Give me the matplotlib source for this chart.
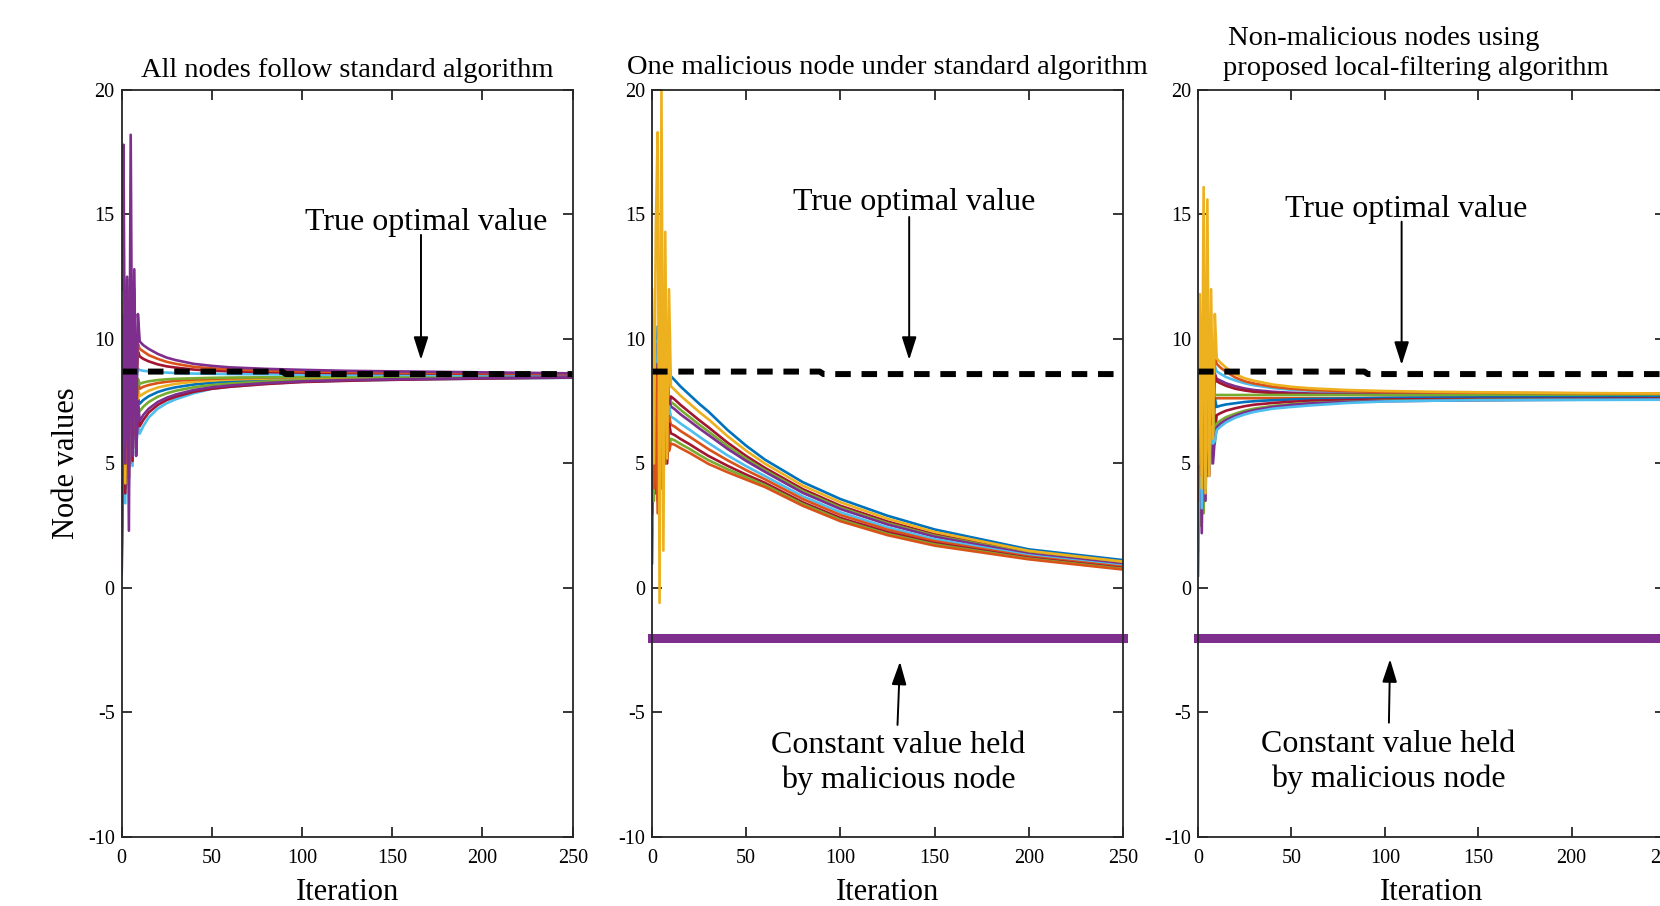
import matplotlib
matplotlib.use('Agg')
import matplotlib.pyplot as plt

plt.rcParams['font.family'] = ['Liberation Serif', 'DejaVu Serif']
plt.rcParams['axes.unicode_minus'] = False

# matlab default line colours
blue = '#0072BD'
orange = '#D95319'
yellow = '#EDB120'
purple = '#7E2F8E'
green = '#77AC30'
lblue = '#4DBEEE'
red = '#A2142F'

iters = [0, 1, 2, 3, 4, 5, 6, 7, 8, 9, 10, 12, 15, 20, 25, 30, 40, 50, 60, 80, 100, 125, 150, 200, 250]

# true optimal value (small step near iteration 90)
opt_iters = [0, 89, 91, 250]
opt_vals = [8.69, 8.69, 8.59, 8.59]

# value held by the malicious node
mal_iters = [0, 250]
mal_vals = [-2.0, -2.0]

# panel 1: all nodes follow standard algorithm
p1_colors = [lblue, blue, green, red, yellow, orange, green, lblue, red, orange, purple, purple]
p1_nodes = [
    [1.0, 11.2, 3.4, 11.6, 4.1, 10.4, 4.9, 9.2, 5.4, 6.8, 6.2, 6.5, 6.85, 7.2, 7.42, 7.58, 7.82, 8.0, 8.08, 8.2, 8.28, 8.33, 8.36, 8.41, 8.44],
    [0.5, 9.8, 4.0, 10.8, 4.8, 10.1, 5.6, 9.0, 6.3, 7.6, 7.4, 7.55, 7.7, 7.87, 7.98, 8.06, 8.17, 8.24, 8.29, 8.35, 8.39, 8.42, 8.44, 8.47, 8.49],
    [4.0, 10.2, 4.6, 11.3, 5.0, 9.9, 5.8, 8.8, 6.2, 7.3, 7.1, 7.28, 7.47, 7.68, 7.82, 7.92, 8.06, 8.15, 8.21, 8.29, 8.34, 8.38, 8.41, 8.45, 8.48],
    [2.2, 10.8, 3.8, 12.1, 4.4, 10.9, 5.1, 9.5, 5.6, 7.0, 6.5, 6.75, 7.05, 7.35, 7.55, 7.68, 7.88, 8.0, 8.08, 8.19, 8.27, 8.32, 8.36, 8.41, 8.45],
    [3.5, 11.5, 4.2, 12.0, 4.5, 11.0, 5.5, 9.8, 6.4, 8.0, 7.7, 7.8, 7.92, 8.05, 8.13, 8.2, 8.28, 8.33, 8.37, 8.41, 8.44, 8.46, 8.47, 8.49, 8.5],
    [1.5, 10.5, 5.0, 11.5, 5.2, 10.6, 6.2, 9.4, 7.0, 8.3, 8.0, 8.08, 8.15, 8.23, 8.28, 8.32, 8.37, 8.4, 8.42, 8.45, 8.47, 8.48, 8.49, 8.5, 8.51],
    [2.5, 9.0, 6.0, 10.5, 5.5, 9.6, 7.0, 9.8, 7.5, 8.4, 8.2, 8.25, 8.3, 8.35, 8.38, 8.4, 8.42, 8.44, 8.45, 8.46, 8.47, 8.48, 8.48, 8.49, 8.5],
    [0.5, 8.5, 7.2, 9.4, 7.5, 9.2, 8.0, 9.1, 8.3, 8.8, 8.75, 8.72, 8.7, 8.67, 8.65, 8.63, 8.61, 8.6, 8.59, 8.58, 8.57, 8.56, 8.56, 8.55, 8.55],
    [1.2, 10.0, 6.5, 9.8, 7.0, 10.2, 7.8, 9.9, 8.2, 9.5, 9.3, 9.2, 9.1, 8.98, 8.9, 8.85, 8.77, 8.73, 8.7, 8.67, 8.65, 8.63, 8.62, 8.6, 8.58],
    [2.0, 9.5, 7.0, 11.0, 6.2, 10.8, 7.5, 10.5, 8.0, 9.8, 9.6, 9.5, 9.35, 9.2, 9.08, 9.0, 8.88, 8.82, 8.78, 8.73, 8.7, 8.67, 8.65, 8.62, 8.6],
    [0.6, 11.0, 6.0, 12.4, 4.8, 12.6, 5.4, 12.0, 5.3, 7.5, 6.7, 6.95, 7.2, 7.47, 7.64, 7.77, 7.95, 8.06, 8.13, 8.23, 8.3, 8.35, 8.38, 8.43, 8.46],
    [12.0, 17.8, 5.0, 12.5, 2.3, 18.2, 5.3, 12.8, 6.0, 11.0, 9.9, 9.75, 9.6, 9.4, 9.25, 9.15, 9.0, 8.92, 8.86, 8.8, 8.76, 8.72, 8.7, 8.66, 8.62],
]

# panel 2: one malicious node, standard algorithm
p2_colors = [blue, red, green, purple, lblue, orange, red, green, orange, yellow]
p2_nodes = [
    [1.0, 9.0, 5.5, 10.5, 4.5, 10.0, 6.0, 9.5, 7.0, 9.0, 8.5, 8.35, 8.1, 7.75, 7.4, 7.08, 6.35, 5.71, 5.15, 4.25, 3.57, 2.9, 2.35, 1.55, 1.12],
    [6.0, 4.0, 9.8, 3.5, 10.2, 4.2, 9.5, 5.5, 8.8, 7.2, 7.69, 7.57, 7.36, 7.05, 6.74, 6.45, 5.84, 5.3, 4.82, 3.97, 3.3, 2.67, 2.16, 1.43, 1.01],
    [7.5, 5.0, 9.0, 4.8, 9.5, 5.5, 8.8, 6.0, 8.5, 7.0, 7.47, 7.36, 7.16, 6.86, 6.56, 6.28, 5.7, 5.19, 4.73, 3.89, 3.23, 2.6, 2.1, 1.4, 0.98],
    [4.0, 8.0, 4.6, 9.2, 5.0, 8.6, 5.4, 8.2, 5.6, 7.6, 7.29, 7.18, 6.98, 6.7, 6.41, 6.14, 5.59, 5.1, 4.66, 3.82, 3.17, 2.55, 2.06, 1.37, 0.95],
    [2.5, 9.5, 4.0, 10.0, 4.8, 9.2, 5.0, 8.5, 5.8, 7.3, 6.88, 6.79, 6.61, 6.35, 6.08, 5.82, 5.33, 4.89, 4.49, 3.68, 3.04, 2.43, 1.96, 1.31, 0.89],
    [5.0, 7.0, 4.5, 8.8, 4.2, 8.0, 5.0, 7.6, 5.2, 6.9, 6.56, 6.48, 6.31, 6.07, 5.82, 5.57, 5.13, 4.73, 4.36, 3.57, 2.93, 2.34, 1.88, 1.26, 0.85],
    [3.0, 8.5, 3.8, 9.0, 4.2, 8.2, 4.6, 7.5, 5.0, 6.6, 6.21, 6.14, 5.99, 5.77, 5.53, 5.3, 4.91, 4.55, 4.22, 3.44, 2.81, 2.24, 1.8, 1.21, 0.8],
    [6.5, 3.5, 8.0, 4.0, 7.5, 4.6, 7.2, 5.0, 6.8, 5.6, 5.99, 5.93, 5.79, 5.58, 5.35, 5.13, 4.77, 4.45, 4.13, 3.37, 2.74, 2.17, 1.75, 1.18, 0.77],
    [8.0, 4.0, 8.5, 3.0, 8.8, 4.0, 8.0, 5.0, 7.0, 5.5, 5.8, 5.75, 5.62, 5.42, 5.2, 4.98, 4.65, 4.35, 4.05, 3.3, 2.68, 2.12, 1.7, 1.15, 0.74],
    [12.0, 5.0, 14.5, 18.3, -0.6, 20.0, 1.5, 14.3, 5.2, 12.0, 8.1, 7.96, 7.73, 7.4, 7.07, 6.77, 6.1, 5.51, 4.99, 4.11, 3.44, 2.78, 2.25, 1.49, 1.06],
]

# panel 3: non-malicious nodes with local filtering
p3_colors = [lblue, purple, red, green, orange, blue, red, green, purple, lblue, orange, yellow]
p3_nodes = [
    [2.0, 10.0, 5.0, 9.5, 6.0, 9.2, 6.5, 9.0, 7.5, 8.9, 8.7, 8.6, 8.47, 8.33, 8.22, 8.14, 8.03, 7.96, 7.92, 7.87, 7.85, 7.83, 7.82, 7.81, 7.8],
    [3.0, 9.0, 4.0, 10.0, 5.0, 9.5, 6.0, 9.0, 6.8, 8.6, 8.4, 8.33, 8.22, 8.1, 8.01, 7.95, 7.88, 7.84, 7.81, 7.79, 7.78, 7.77, 7.76, 7.75, 7.74],
    [4.0, 8.5, 3.6, 9.8, 4.8, 9.0, 5.6, 8.8, 6.5, 8.5, 8.3, 8.22, 8.12, 8.0, 7.93, 7.88, 7.83, 7.8, 7.78, 7.76, 7.75, 7.74, 7.73, 7.72, 7.72],
    [6.0, 3.0, 9.5, 4.0, 9.0, 5.5, 9.2, 6.0, 9.0, 7.75, 7.75, 7.75, 7.75, 7.75, 7.75, 7.75, 7.75, 7.75, 7.75, 7.75, 7.75, 7.75, 7.75, 7.75, 7.75],
    [1.5, 10.5, 4.5, 10.0, 5.2, 9.4, 6.2, 8.6, 6.8, 7.62, 7.62, 7.62, 7.62, 7.62, 7.62, 7.62, 7.62, 7.62, 7.62, 7.62, 7.62, 7.62, 7.62, 7.62, 7.62],
    [0.5, 9.5, 3.0, 9.0, 4.5, 8.8, 5.5, 8.4, 6.0, 7.6, 7.27, 7.32, 7.37, 7.42, 7.47, 7.5, 7.54, 7.57, 7.59, 7.61, 7.63, 7.64, 7.65, 7.66, 7.67],
    [5.5, 3.5, 9.0, 4.2, 8.5, 5.0, 8.0, 5.5, 7.8, 6.2, 6.94, 7.02, 7.12, 7.22, 7.3, 7.36, 7.43, 7.48, 7.52, 7.55, 7.57, 7.58, 7.59, 7.6, 7.61],
    [7.0, 2.5, 8.5, 3.0, 8.0, 4.5, 7.6, 5.0, 7.4, 5.8, 6.6, 6.72, 6.86, 7.0, 7.12, 7.2, 7.31, 7.38, 7.43, 7.48, 7.52, 7.54, 7.55, 7.57, 7.58],
    [2.5, 8.0, 2.2, 8.5, 3.5, 8.0, 4.5, 7.2, 5.0, 6.0, 6.45, 6.6, 6.75, 6.92, 7.05, 7.14, 7.27, 7.35, 7.41, 7.47, 7.5, 7.52, 7.54, 7.56, 7.57],
    [1.0, 8.8, 3.2, 9.2, 4.0, 8.5, 4.8, 6.5, 5.8, 5.9, 6.34, 6.48, 6.65, 6.84, 6.97, 7.07, 7.2, 7.27, 7.33, 7.43, 7.49, 7.52, 7.54, 7.55, 7.56],
    [3.5, 11.0, 4.5, 10.8, 5.5, 10.5, 6.5, 10.0, 7.5, 9.4, 9.0, 8.85, 8.68, 8.45, 8.3, 8.21, 8.08, 8.0, 7.95, 7.9, 7.87, 7.85, 7.84, 7.82, 7.8],
    [5.0, 11.8, 4.0, 16.1, 3.8, 15.6, 4.5, 12.0, 6.0, 11.0, 9.22, 9.05, 8.85, 8.58, 8.42, 8.32, 8.17, 8.08, 8.02, 7.95, 7.91, 7.88, 7.86, 7.83, 7.81],
]

axis_col = '#262626'
arrow = dict(arrowstyle='-|>,head_length=1.0,head_width=0.32', color='black',
             lw=1.4, mutation_scale=14, shrinkA=0, shrinkB=0)


def setup(ax):
    ax.set_xlim(0, 250)
    ax.set_ylim(-10, 20)
    ax.set_xticks([0, 50, 100, 150, 200, 250])
    ax.set_yticks([-10, -5, 0, 5, 10, 15, 20])
    ax.tick_params(direction='in', top=True, right=True, length=7, width=1.3,
                   colors=axis_col, labelcolor='black', labelsize=14.5)
    ax.tick_params(axis='x', pad=9)
    ax.tick_params(axis='y', pad=5)
    for s in ax.spines.values():
        s.set_linewidth(1.3)
        s.set_color(axis_col)
    ax.set_xlabel('Iteration', fontsize=22, labelpad=7)


def draw_nodes(ax, nodes, colors):
    for vals, c in zip(nodes, colors):
        ax.plot(iters, vals, color=c, lw=1.9)
    ax.plot(opt_iters, opt_vals, color='black', lw=4.3, dashes=(2.6, 1.8))


fig = plt.figure(figsize=(16.6, 9.06), dpi=100)
ax1 = fig.add_axes([0.0733, 0.0762, 0.2717, 0.8245])
ax2 = fig.add_axes([0.3928, 0.0762, 0.2837, 0.8245])
ax3 = fig.add_axes([0.7217, 0.0762, 0.2813, 0.8245])

# panel 1
setup(ax1)
draw_nodes(ax1, p1_nodes, p1_colors)
ax1.set_ylabel('Node values', fontsize=22, labelpad=5)
ax1.set_title('All nodes follow standard algorithm', fontsize=20.5, pad=9.5)
ax1.text(168.7, 14.38, 'True optimal value', fontsize=23, ha='center', va='baseline')
ax1.annotate('', xy=(165.9, 9.16), xytext=(165.9, 14.18), arrowprops=arrow)

# panel 2
setup(ax2)
draw_nodes(ax2, p2_nodes, p2_colors)
ax2.plot(mal_iters, mal_vals, color=purple, lw=6.5, solid_capstyle='projecting', clip_on=False)
ax2.set_title('One malicious node under standard algorithm', fontsize=20.5, pad=11.5)
ax2.text(139.4, 15.18, 'True optimal value', fontsize=23, ha='center', va='baseline')
ax2.annotate('', xy=(136.5, 9.16), xytext=(136.5, 14.9), arrowprops=arrow)
ax2.text(130.5, -6.63, 'Constant value held', fontsize=23, ha='center', va='baseline')
ax2.text(130.5, -8.03, 'by malicious node', fontsize=23, ha='center', va='baseline')
ax2.annotate('', xy=(131.6, -2.96), xytext=(130.3, -5.5), arrowprops=arrow)

# panel 3
setup(ax3)
draw_nodes(ax3, p3_nodes, p3_colors)
ax3.plot(mal_iters, mal_vals, color=purple, lw=6.5, solid_capstyle='projecting', clip_on=False)
fig.text(1228 / 1660, 1 - 45 / 906, 'Non-malicious nodes using', fontsize=20.5, ha='left', va='baseline')
fig.text(1223 / 1660, 1 - 75 / 906, 'proposed local-filtering algorithm', fontsize=20.5, ha='left', va='baseline')
ax3.text(111.3, 14.91, 'True optimal value', fontsize=23, ha='center', va='baseline')
ax3.annotate('', xy=(109.0, 8.96), xytext=(109.0, 14.71), arrowprops=arrow)
ax3.text(101.8, -6.57, 'Constant value held', fontsize=23, ha='center', va='baseline')
ax3.text(101.8, -7.98, 'by malicious node', fontsize=23, ha='center', va='baseline')
ax3.annotate('', xy=(102.8, -2.86), xytext=(102.2, -5.41), arrowprops=arrow)

fig.savefig('out.png', dpi=100)
